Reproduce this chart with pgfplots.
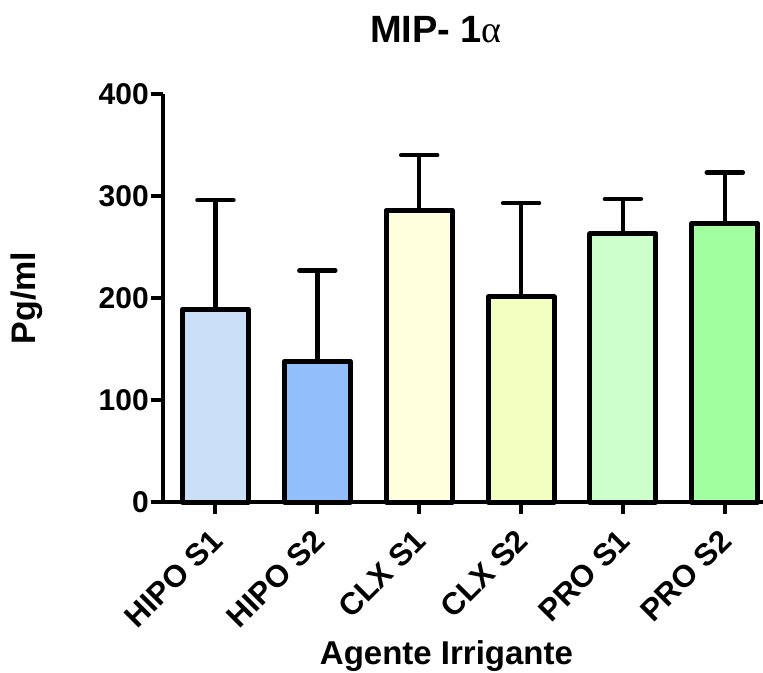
\documentclass[border=0pt]{standalone}
\usepackage{pgfplots}
\pgfplotsset{compat=1.18}
\usepackage{fontspec}
\setmainfont{Liberation Sans}
\newfontfamily\greekfont{Liberation Serif}
\definecolor{c1}{HTML}{CADFF8}
\definecolor{c2}{HTML}{92BFF9}
\definecolor{c3}{HTML}{FFFEDD}
\definecolor{c4}{HTML}{F3FFC0}
\definecolor{c5}{HTML}{CCFFCC}
\definecolor{c6}{HTML}{A2FFA0}
\begin{document}
\begin{tikzpicture}
\begin{axis}[
  at={(0,0)}, anchor=south west,
  scale only axis, width=600pt, height=408pt,
  xmin=-0.515, xmax=5.375, ymin=0, ymax=400,
  axis lines*=left,
  axis line style={line width=4pt, black},
  xtick={0,1,2,3,4,5},
  xticklabels={HIPO S1, HIPO S2, CLX S1, CLX S2, PRO S1, PRO S2},
  ytick={0,100,200,300,400},
  tick align=outside,
  major tick length=12pt,
  tick style={line width=4pt, black},
  /pgf/number format/assume math mode=true,
  yticklabel style={anchor=east, inner sep=2pt, font=\bfseries\fontsize{30}{32}\selectfont},
  xticklabel style={rotate=45, anchor=north east, inner sep=2pt, xshift=-12pt, yshift=-3pt, font=\bfseries\fontsize{31}{33}\selectfont},
  title={MIP- 1{\greekfont\mdseries α}},
  title style={at={(axis description cs:0.455,1)}, anchor=base, yshift=46pt, font=\bfseries\fontsize{38}{40}\selectfont},
  xlabel={Agente Irrigante},
  xlabel style={at={(axis description cs:0.4725,0)}, anchor=base, yshift=-162pt, font=\bfseries\fontsize{33}{35}\selectfont},
  ylabel={Pg/ml},
  ylabel style={at={(axis description cs:-0.2267,0.5)}, anchor=center, rotate=0, font=\bfseries\fontsize{34}{36}\selectfont},
  clip=false,
]
\pgfplotsset{
  mybar/.style={ybar, bar width=66pt, bar shift=0pt, fill=#1, draw=black, line width=5pt, line join=round,
    error bars/.cd, y dir=plus, y explicit,
    error bar style={line width=4.5pt, black},
    error mark options={rotate=90, line width=4.5pt, mark size=18pt, black, line cap=round}},
}
\addplot[mybar=c1] coordinates {(0,189) +- (0,107)};
\addplot[mybar=c2] coordinates {(1,138) +- (0,89)};
\addplot[mybar=c3] coordinates {(2,286) +- (0,54)};
\addplot[mybar=c4] coordinates {(3,201) +- (0,92)};
\addplot[mybar=c5] coordinates {(4,263) +- (0,34)};
\addplot[mybar=c6] coordinates {(5,273) +- (0,50)};
\end{axis}
\pgfresetboundingbox
\path[use as bounding box] (-163pt,-170pt) rectangle (600pt,502pt);
\end{tikzpicture}
\end{document}
